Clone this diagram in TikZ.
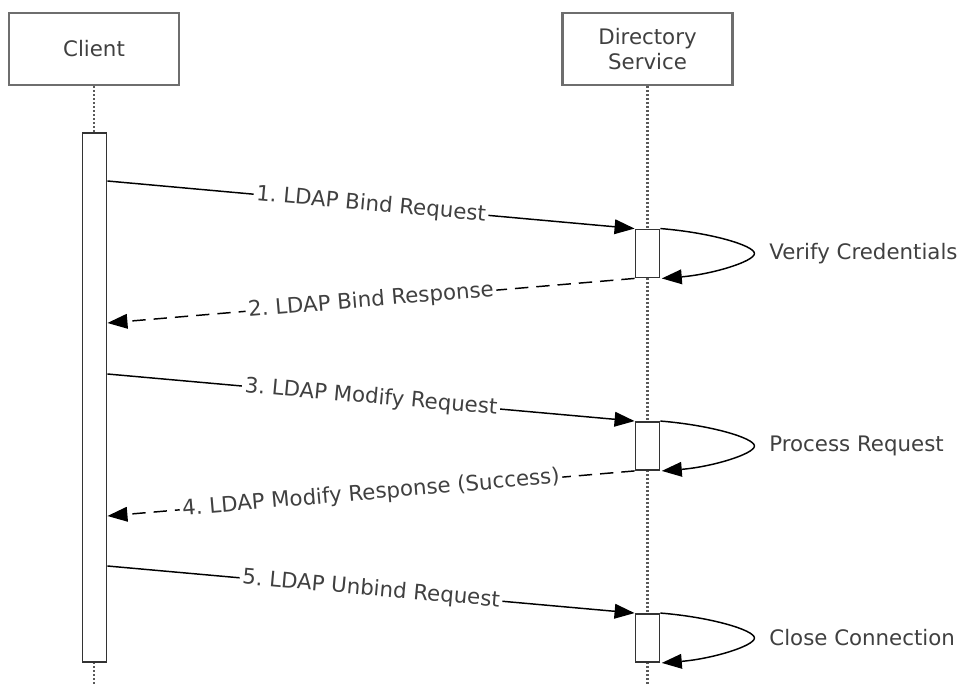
\documentclass[tikz,border=0pt]{standalone}
\usepackage{fontspec}
\setmainfont{DejaVu Sans}
\usepackage{tikz}
\usetikzlibrary{arrows.meta}
\definecolor{ink}{HTML}{404040}
\definecolor{frame}{HTML}{6E6E6E}
\frenchspacing

\begin{document}
\begin{tikzpicture}[x=0.75pt,y=-0.75pt,font=\fontsize{16}{19}\selectfont,
  actor/.style={draw=frame,line width=2.2pt,fill=white,text=ink,align=center,
    minimum width=127.5pt,minimum height=54pt},
  bar/.style={draw=black!80,line width=1.4pt,fill=white,inner sep=0pt,minimum width=18pt},
  life/.style={draw=black!65,line width=1.6pt,dash pattern=on 1.5pt off 1.5pt},
  msg/.style={line width=1.1pt,-{Triangle[length=15pt,width=11pt]}},
  reply/.style={msg,dash pattern=on 10pt off 6pt},
  lbl/.style={midway,sloped,fill=white,text=ink,inner sep=2pt}]
  \useasboundingbox (0,0) rectangle (960,684);
  \node[actor] (client) at (94,49) {Client};
  \node[actor] (dirsvc) at (647.5,49) {Directory\\Service};
  \draw[life] (client.south) -- (94,684);
  \draw[life] (dirsvc.south) -- (647.5,684);
  \node[bar,minimum height=396.75pt] (cbar) at (94.5,397.5) {};
  \foreach \n/\y/\txt in {1/253.5/Verify Credentials, 2/446/Process Request, 3/638/Close Connection} {
    \node[bar,minimum height=36pt] (sb\n) at (647.5,\y) {};
    \draw[msg] (sb\n.north east) .. controls +(50,4) and +(0,-8) .. ([xshift=70.5pt]sb\n.east)
      .. controls +(0,8) and +(50,-4) .. ([xshift=1pt]sb\n.south east);
    \node[anchor=west,inner sep=0pt,text=ink] (note\n) at ([xshift=81.5pt]sb\n.east) {\txt};
  }
  \draw[msg] (cbar.east |- 0,181) -- (sb1.north west) node[lbl] {1. LDAP Bind Request};
  \draw[reply] (sb1.south west) -- (cbar.east |- 0,323) node[lbl] {2. LDAP Bind Response};
  \draw[msg] (cbar.east |- 0,374) -- (sb2.north west) node[lbl] {3. LDAP Modify Request};
  \draw[reply] (sb2.south west) -- (cbar.east |- 0,516) node[lbl] {4. LDAP Modify Response (Success)};
  \draw[msg] (cbar.east |- 0,566) -- (sb3.north west) node[lbl] {5. LDAP Unbind Request};
\end{tikzpicture}
\end{document}
